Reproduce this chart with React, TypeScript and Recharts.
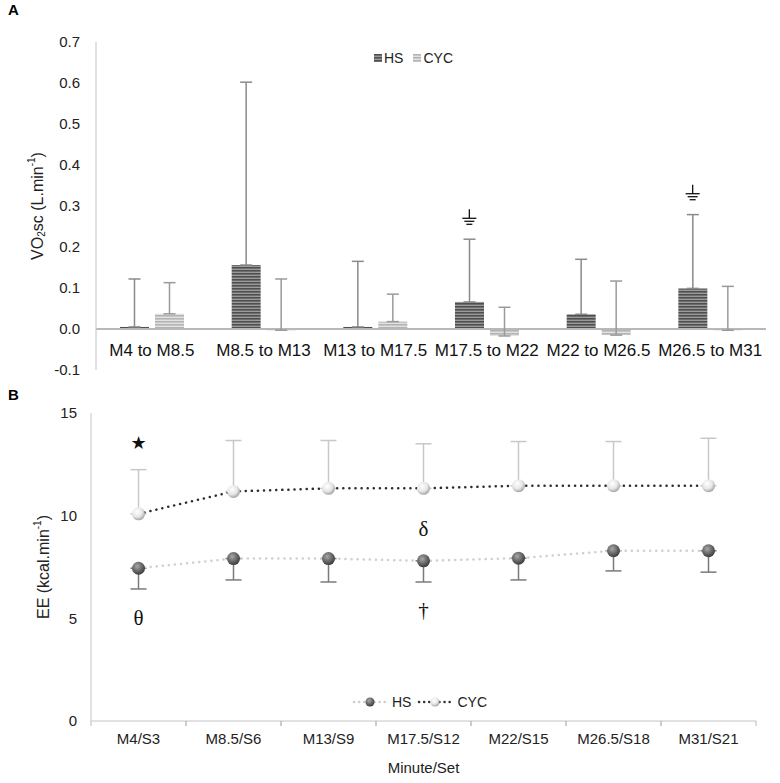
import React from 'react';
import {
  ComposedChart, Bar, Line, XAxis, YAxis, ErrorBar, ReferenceLine, ReferenceDot, Label,
} from 'recharts';

// ---------- Panel A data ----------
const periodsA = ['M4 to M8.5', 'M8.5 to M13', 'M13 to M17.5', 'M17.5 to M22', 'M22 to M26.5', 'M26.5 to M31'];
const hsVO2 = [0.005, 0.156, 0.005, 0.066, 0.036, 0.099];
const hsVO2SD = [0.117, 0.446, 0.16, 0.153, 0.134, 0.18];
const cycVO2 = [0.037, -0.003, 0.018, -0.017, -0.015, -0.003];
const cycVO2SD = [0.076, 0.125, 0.067, 0.07, 0.132, 0.107];
const ticksA = [-0.1, 0, 0.1, 0.2, 0.3, 0.4, 0.5, 0.6, 0.7];
const annotA = [
  { period: 'M17.5 to M22', value: 0.27, symbol: '⏚' },
  { period: 'M26.5 to M31', value: 0.33, symbol: '⏚' },
];

// ---------- Panel B data ----------
const timesB = ['M4/S3', 'M8.5/S6', 'M13/S9', 'M17.5/S12', 'M22/S15', 'M26.5/S18', 'M31/S21'];
const hsEE = [7.44, 7.91, 7.91, 7.8, 7.93, 8.29, 8.29];
const hsEESD = [1.01, 1.04, 1.14, 1.03, 1.06, 0.98, 1.04];
const cycEE = [10.09, 11.18, 11.33, 11.33, 11.46, 11.46, 11.46];
const cycEESD = [2.15, 2.48, 2.33, 2.17, 2.15, 2.15, 2.31];
const ticksB = [0, 5, 10, 15];
const annotB = [
  { time: 'M4/S3', value: 13.55, symbol: '★', serif: false },
  { time: 'M4/S3', value: 5.0, symbol: 'θ', serif: true },
  { time: 'M17.5/S12', value: 9.35, symbol: 'δ', serif: true },
  { time: 'M17.5/S12', value: 5.4, symbol: '†', serif: true },
];

const dataA = periodsA.map((p, i) => ({
  period: p,
  hs: hsVO2[i],
  hsErr: [0, hsVO2SD[i]],
  cyc: cycVO2[i],
  cycErr: [0, cycVO2SD[i]],
}));

const dataB = timesB.map((t, i) => ({
  time: t,
  hs: hsEE[i],
  hsErr: [hsEESD[i], 0],
  cyc: cycEE[i],
  cycErr: [0, cycEESD[i]],
}));

const SANS = '"Liberation Sans", Arial, sans-serif';
const SERIF = '"Liberation Serif", "Times New Roman", serif';
const BAR_SIZE = 29;
const BAR_GAP = 6;
const B_WIDTH = 780;
const B_LEFT = 91;
const B_RIGHT = 24;

const TickA = (props: any) => {
  const { x, y, payload } = props;
  return (
    <text x={x} y={y} dy={-22} textAnchor="middle" fill="#111" fontSize={17} fontFamily={SANS}>
      {payload.value}
    </text>
  );
};

const TickB = (props: any) => {
  const { x, y, payload } = props;
  const half = (B_WIDTH - B_LEFT - B_RIGHT) / timesB.length / 2;
  return (
    <g>
      <line x1={x - half} x2={x - half} y1={y - 8} y2={y - 3} stroke="#bbb" strokeWidth={1} />
      <line x1={x + half} x2={x + half} y1={y - 8} y2={y - 3} stroke="#bbb" strokeWidth={1} />
      <text x={x} y={y} dy={15} textAnchor="middle" fill="#222" fontSize={15} fontFamily={SANS}>
        {payload.value}
      </text>
    </g>
  );
};

const YLabelA = (props: any) => {
  const { viewBox } = props;
  const cx = 37;
  const cy = viewBox.y + viewBox.height / 2;
  return (
    <text x={cx} y={cy} transform={`rotate(-90, ${cx}, ${cy})`} textAnchor="middle" dominantBaseline="central"
      fontSize={16} fontFamily={SANS} fill="#222">
      VO<tspan fontSize={10} dy={4}>2</tspan><tspan dy={-4}>sc (L.min</tspan>
      <tspan fontSize={10} dy={-6}>-1</tspan><tspan dy={6}>)</tspan>
    </text>
  );
};

const YLabelB = (props: any) => {
  const { viewBox } = props;
  const cx = 43;
  const cy = viewBox.y + viewBox.height / 2;
  return (
    <text x={cx} y={cy} transform={`rotate(-90, ${cx}, ${cy})`} textAnchor="middle" dominantBaseline="central"
      fontSize={16} fontFamily={SANS} fill="#222">
      EE (kcal.min<tspan fontSize={10} dy={-6}>-1</tspan><tspan dy={6}>)</tspan>
    </text>
  );
};

const GroundShape = (props: any) => {
  const { cx, cy } = props;
  const x = cx - (BAR_SIZE + BAR_GAP) / 2;
  return (
    <g stroke="#111" strokeWidth={1.3}>
      <line x1={x} x2={x} y1={cy - 9} y2={cy} />
      <line x1={x - 7} x2={x + 7} y1={cy} y2={cy} />
      <line x1={x - 5} x2={x + 5} y1={cy + 3} y2={cy + 3} />
      <line x1={x - 3} x2={x + 3} y1={cy + 6} y2={cy + 6} />
    </g>
  );
};

const SymbolShape = (symbol: string, serif: boolean) => (props: any) => {
  const { cx, cy } = props;
  return (
    <text x={cx} y={cy} textAnchor="middle" dominantBaseline="central" fontSize={serif ? 21 : 18}
      fontFamily={serif ? SERIF : '"DejaVu Sans", sans-serif'} fill="#111">
      {symbol}
    </text>
  );
};

const LegendA = () => (
  <div style={{ display: 'flex', alignItems: 'center', fontFamily: SANS, fontSize: 14, color: '#222' }}>
    <svg width={8} height={8} style={{ marginRight: 2 }}>
      <rect width={8} height={8} fill="url(#hsPat)" />
    </svg>
    <span style={{ marginRight: 10 }}>HS</span>
    <svg width={8} height={8} style={{ marginRight: 2 }}>
      <rect width={8} height={8} fill="url(#cycPat)" />
    </svg>
    <span>CYC</span>
  </div>
);

const LegendB = () => (
  <div style={{ display: 'flex', alignItems: 'center', fontFamily: SANS, fontSize: 14, color: '#222' }}>
    <svg width={36} height={12} style={{ marginRight: 4 }}>
      <line x1={2} x2={34} y1={6} y2={6} stroke="#ccc" strokeWidth={2.5} strokeDasharray="0.1 5" strokeLinecap="round" />
      <circle cx={18} cy={6} r={4.5} fill="url(#hsBall)" />
    </svg>
    <span style={{ marginRight: 6 }}>HS</span>
    <svg width={36} height={12} style={{ marginRight: 4 }}>
      <line x1={2} x2={34} y1={6} y2={6} stroke="#333" strokeWidth={2.5} strokeDasharray="0.1 5" strokeLinecap="round" />
      <circle cx={18} cy={6} r={4.5} fill="url(#cycBall)" />
    </svg>
    <span>CYC</span>
  </div>
);

const BallDot = (id: string) => (props: any) => {
  const { cx, cy, index } = props;
  if (cx == null || cy == null) return <g key={index} />;
  return <circle key={index} cx={cx} cy={cy} r={6.5} fill={`url(#${id})`} stroke="none" />;
};

export default function App() {
  return (
    <div style={{ position: 'absolute', left: 0, top: 0, width: 780, height: 783, background: '#fff', fontFamily: SANS }}>
      <svg width={0} height={0} style={{ position: 'absolute' }}>
        <defs>
          <pattern id="hsPat" width={4} height={3} patternUnits="userSpaceOnUse">
            <rect width={4} height={3} fill="#9a9a9a" />
            <rect width={4} height={1.6} fill="#4f4f4f" />
          </pattern>
          <pattern id="cycPat" width={4} height={3} patternUnits="userSpaceOnUse">
            <rect width={4} height={3} fill="#e2e2e2" />
            <rect width={4} height={1.6} fill="#b4b4b4" />
          </pattern>
          <radialGradient id="hsBall" cx="40%" cy="35%" r="65%">
            <stop offset="0%" stopColor="#a8a8a8" />
            <stop offset="60%" stopColor="#666" />
            <stop offset="100%" stopColor="#3c3c3c" />
          </radialGradient>
          <radialGradient id="cycBall" cx="40%" cy="35%" r="65%">
            <stop offset="0%" stopColor="#ffffff" />
            <stop offset="60%" stopColor="#e6e6e6" />
            <stop offset="100%" stopColor="#a5a5a5" />
          </radialGradient>
        </defs>
      </svg>

      <div style={{ position: 'absolute', left: 8, top: 1, fontWeight: 'bold', fontSize: 15, fontFamily: SANS }}>A</div>
      <div style={{ position: 'absolute', left: 8, top: 386, fontWeight: 'bold', fontSize: 15, fontFamily: SANS }}>B</div>

      <div style={{ position: 'absolute', left: 0, top: 0 }}>
        <ComposedChart width={780} height={385} data={dataA} margin={{ top: 42, right: 14, left: 0, bottom: 0 }}
          barSize={BAR_SIZE} barGap={BAR_GAP}>
          <XAxis dataKey="period" axisLine={false} tickLine={false} height={15} tick={<TickA />} interval={0} />
          <YAxis domain={[-0.1, 0.7]} ticks={ticksA} width={96} tickLine={false} tickMargin={10} axisLine={{ stroke: '#c4c4c4' }}
            tickFormatter={(v: number) => v.toFixed(1)} tick={{ fill: '#222', fontSize: 15, fontFamily: SANS }}
            allowDataOverflow label={<YLabelA />} />
          <ReferenceLine y={0} stroke="#b8b8b8" strokeWidth={2} />
          <Bar dataKey="hs" name="HS" fill="url(#hsPat)" isAnimationActive={false}>
            <ErrorBar dataKey="hsErr" width={6} stroke="#8a8a8a" strokeWidth={1.5} direction="y" />
          </Bar>
          <Bar dataKey="cyc" name="CYC" fill="url(#cycPat)" isAnimationActive={false}>
            <ErrorBar dataKey="cycErr" width={6} stroke="#9a9a9a" strokeWidth={1.5} direction="y" />
          </Bar>
          {annotA.map((a, i) => (
            <ReferenceDot key={i} x={a.period} y={a.value} r={0} shape={<GroundShape />} ifOverflow="visible" />
          ))}
        </ComposedChart>
      </div>
      <div style={{ position: 'absolute', left: 374, top: 50 }}>
        <LegendA />
      </div>

      <div style={{ position: 'absolute', left: 0, top: 385 }}>
        <ComposedChart width={B_WIDTH} height={398} data={dataB} margin={{ top: 28, right: B_RIGHT, left: 0, bottom: 7 }}>
          <XAxis dataKey="time" scale="band" axisLine={{ stroke: '#c4c4c4' }} tickLine={false} height={55} tick={<TickB />} interval={0}>
            <Label value="Minute/Set" position="insideBottom" offset={3} fontSize={15} fontFamily={SANS} fill="#222" />
          </XAxis>
          <YAxis domain={[0, 15]} ticks={ticksB} width={B_LEFT} tickLine={false} tickMargin={8} axisLine={{ stroke: '#c4c4c4' }}
            tick={{ fill: '#222', fontSize: 15, fontFamily: SANS }} label={<YLabelB />} />
          <Line dataKey="hs" name="HS" stroke="#cfcfcf" strokeWidth={2.5} strokeDasharray="0.1 6" strokeLinecap="round"
            dot={BallDot('hsBall')} activeDot={false} isAnimationActive={false}>
            <ErrorBar dataKey="hsErr" width={8} stroke="#7a7a7a" strokeWidth={1.5} direction="y" />
          </Line>
          <Line dataKey="cyc" name="CYC" stroke="#2e2e2e" strokeWidth={2.5} strokeDasharray="0.1 6" strokeLinecap="round"
            dot={BallDot('cycBall')} activeDot={false} isAnimationActive={false}>
            <ErrorBar dataKey="cycErr" width={8} stroke="#c8c8c8" strokeWidth={1.5} direction="y" />
          </Line>
          {annotB.map((a, i) => (
            <ReferenceDot key={i} x={a.time} y={a.value} r={0} shape={SymbolShape(a.symbol, a.serif)} ifOverflow="visible" />
          ))}
        </ComposedChart>
      </div>
      <div style={{ position: 'absolute', left: 352, top: 694 }}>
        <LegendB />
      </div>
    </div>
  );
}
